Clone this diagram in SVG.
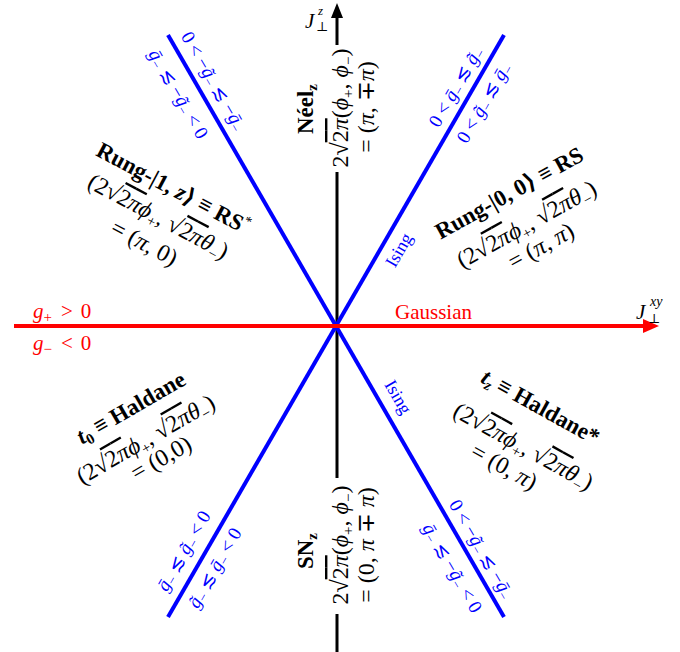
<svg xmlns="http://www.w3.org/2000/svg" width="680" height="652" viewBox="0 0 680 652">
<style>
text { font-family: "Liberation Serif", "DejaVu Serif", serif; }
.lbl { font-size: 24px; fill: #000; }
.ttl { font-size: 23px; font-weight: bold; fill: #000; }
.it { font-style: italic; }
.ov { text-decoration: overline; }
.bl { fill: #0000ff; font-size: 19px; }
.is { fill: #0000ff; font-size: 18px; }
.rd { fill: #ff0000; font-size: 21px; }
.ax { stroke: #000; stroke-width: 3; }
.ising { stroke: #0000ff; stroke-width: 4; }
.gauss { stroke: #ff0000; stroke-width: 4; }
.sub { font-size: 15px; }
.bsub { font-size: 13px; }
</style>
<rect width="680" height="652" fill="#fff"/>
<g id="connectors">
<line class="ax" x1="337" y1="16" x2="337" y2="652"/>
<polygon points="337,3 331,18 343,18" fill="#000"/>
<line class="ising" x1="168" y1="35" x2="504" y2="617"/>
<line class="ising" x1="168" y1="617" x2="504" y2="35"/>
<line class="gauss" x1="14" y1="326" x2="647" y2="326"/>
<polygon points="659,326 643,319 643,333" fill="#ff0000"/>
</g>
<g id="axis-labels">
<text x="305" y="28" class="it" font-size="21">J</text>
<text x="318" y="15" class="it" font-size="13">z</text>
<text x="316" y="31" font-size="13">⊥</text>
<text x="636" y="319" class="it" font-size="21">J</text>
<text x="650" y="306" class="it" font-size="14">xy</text>
<text x="648" y="323" font-size="13">⊥</text>
</g>
<g id="gaussian">
<text class="rd" x="33" y="318"><tspan class="it">g</tspan><tspan class="sub" dy="4">+</tspan><tspan dy="-4" dx="9">&gt;</tspan><tspan dx="8">0</tspan></text>
<text class="rd" x="33" y="350"><tspan class="it">g</tspan><tspan class="sub" dy="4">−</tspan><tspan dy="-4" dx="9">&lt;</tspan><tspan dx="8">0</tspan></text>
<text class="rd" x="395" y="319" font-size="20">Gaussian</text>
</g>
<g id="ising-labels">
<text class="is" transform="translate(404,253) rotate(-60)" text-anchor="middle">Ising</text>
<text class="is" transform="translate(393,400) rotate(60)" text-anchor="middle">Ising</text>
</g>
<g id="bound-tr">
<text class="bl" transform="translate(461,90) rotate(-60)" text-anchor="middle">0 &lt; <tspan class="it">ḡ</tspan><tspan class="bsub" dy="3">−</tspan><tspan dy="-3"> ≲ </tspan><tspan class="it">g̃</tspan><tspan class="bsub" dy="3">−</tspan></text>
<text class="bl" transform="translate(489,106) rotate(-60)" text-anchor="middle">0 &lt; <tspan class="it">g̃</tspan><tspan class="bsub" dy="3">−</tspan><tspan dy="-3"> ≲ </tspan><tspan class="it">ḡ</tspan><tspan class="bsub" dy="3">−</tspan></text>
</g>
<g id="bound-bl">
<text class="bl" transform="translate(189,554) rotate(-60)" text-anchor="middle"><tspan class="it">ḡ</tspan><tspan class="bsub" dy="3">−</tspan><tspan dy="-3"> ≲ </tspan><tspan class="it">g̃</tspan><tspan class="bsub" dy="3">−</tspan><tspan dy="-3"> &lt; 0</tspan></text>
<text class="bl" transform="translate(220,571) rotate(-60)" text-anchor="middle"><tspan class="it">g̃</tspan><tspan class="bsub" dy="3">−</tspan><tspan dy="-3"> ≲ </tspan><tspan class="it">ḡ</tspan><tspan class="bsub" dy="3">−</tspan><tspan dy="-3"> &lt; 0</tspan></text>
</g>
<g id="bound-tl">
<text class="bl" transform="translate(208,84) rotate(60)" text-anchor="middle">0 &lt; −<tspan class="it">g̃</tspan><tspan class="bsub" dy="3">−</tspan><tspan dy="-3"> ≲ −</tspan><tspan class="it">ḡ</tspan><tspan class="bsub" dy="3">−</tspan></text>
<text class="bl" transform="translate(173,97) rotate(60)" text-anchor="middle"><tspan class="it">ḡ</tspan><tspan class="bsub" dy="3">−</tspan><tspan dy="-3"> ≲ −</tspan><tspan class="it">g̃</tspan><tspan class="bsub" dy="3">−</tspan><tspan dy="-3"> &lt; 0</tspan></text>
</g>
<g id="bound-br">
<text class="bl" transform="translate(476,552) rotate(60)" text-anchor="middle">0 &lt; −<tspan class="it">g̃</tspan><tspan class="bsub" dy="3">−</tspan><tspan dy="-3"> ≲ −</tspan><tspan class="it">ḡ</tspan><tspan class="bsub" dy="3">−</tspan></text>
<text class="bl" transform="translate(447,571) rotate(60)" text-anchor="middle"><tspan class="it">ḡ</tspan><tspan class="bsub" dy="3">−</tspan><tspan dy="-3"> ≲ −</tspan><tspan class="it">g̃</tspan><tspan class="bsub" dy="3">−</tspan><tspan dy="-3"> &lt; 0</tspan></text>
</g>
<g id="rs" transform="translate(527,225) rotate(-29)">
<text class="ttl" x="0" y="-29" text-anchor="middle">Rung-|0, 0⟩ ≡ RS</text>
<text class="lbl" x="0" y="7" text-anchor="middle">(2√<tspan class="ov">2<tspan class="it">π</tspan></tspan><tspan class="it">ϕ</tspan><tspan class="sub" dy="5">+</tspan><tspan dy="-5">, √</tspan><tspan class="ov">2<tspan class="it">π</tspan></tspan><tspan class="it">θ</tspan><tspan class="sub" dy="5">−</tspan><tspan dy="-5">)</tspan></text>
<text class="lbl" x="2" y="33" text-anchor="middle">= (<tspan class="it">π</tspan>, <tspan class="it">π</tspan>)</text>
</g>
<g id="rs-star" transform="translate(158,217) rotate(28)">
<text class="ttl" x="0" y="-25" text-anchor="middle">Rung-|1, <tspan class="it">z</tspan>⟩ ≡ RS<tspan font-size="14" font-weight="normal" dy="-9">*</tspan></text>
<text class="lbl" x="0" y="7" text-anchor="middle">(2√<tspan class="ov">2<tspan class="it">π</tspan></tspan><tspan class="it">ϕ</tspan><tspan class="sub" dy="5">+</tspan><tspan dy="-5">, √</tspan><tspan class="ov">2<tspan class="it">π</tspan></tspan><tspan class="it">θ</tspan><tspan class="sub" dy="5">−</tspan><tspan dy="-5">)</tspan></text>
<text class="lbl" x="0" y="37" text-anchor="middle">= (<tspan class="it">π</tspan>, 0)</text>
</g>
<g id="haldane" transform="translate(146,440) rotate(-30)">
<text class="ttl" x="3" y="-28" text-anchor="middle"><tspan class="it">t</tspan><tspan class="sub" dy="4">0</tspan><tspan dy="-4"> ≡ Haldane</tspan></text>
<text class="lbl" x="0" y="7" text-anchor="middle">(2√<tspan class="ov">2<tspan class="it">π</tspan></tspan><tspan class="it">ϕ</tspan><tspan class="sub" dy="5">+</tspan><tspan dy="-5">, √</tspan><tspan class="ov">2<tspan class="it">π</tspan></tspan><tspan class="it">θ</tspan><tspan class="sub" dy="5">−</tspan><tspan dy="-5">)</tspan></text>
<text class="lbl" x="4" y="31" text-anchor="middle">= (0,0)</text>
</g>
<g id="haldane-star" transform="translate(523,447) rotate(29)">
<text class="ttl" x="-4" y="-36" text-anchor="middle"><tspan class="it">t</tspan><tspan class="sub it" dy="4">z</tspan><tspan dy="-4"> ≡ Haldane*</tspan></text>
<text class="lbl" x="0" y="7" text-anchor="middle">(2√<tspan class="ov">2<tspan class="it">π</tspan></tspan><tspan class="it">ϕ</tspan><tspan class="sub" dy="5">+</tspan><tspan dy="-5">, √</tspan><tspan class="ov">2<tspan class="it">π</tspan></tspan><tspan class="it">θ</tspan><tspan class="sub" dy="5">−</tspan><tspan dy="-5">)</tspan></text>
<text class="lbl" x="-7" y="34" text-anchor="middle">= (0, <tspan class="it">π</tspan>)</text>
</g>
<g id="neel">
<rect x="329" y="45" width="15" height="127" fill="#fff"/>
<text class="ttl" transform="translate(313,109) rotate(-90)" text-anchor="middle">Néel<tspan class="sub" dy="4">z</tspan></text>
<text class="lbl" transform="translate(348,108) rotate(-90)" text-anchor="middle">2√<tspan class="ov">2<tspan class="it">π</tspan></tspan>(<tspan class="it">ϕ</tspan><tspan class="sub" dy="5">+</tspan><tspan dy="-5">, </tspan><tspan class="it">ϕ</tspan><tspan class="sub" dy="5">−</tspan><tspan dy="-5">)</tspan></text>
<text class="lbl" transform="translate(374,107) rotate(-90)" text-anchor="middle">= (<tspan class="it">π</tspan>, ∓<tspan class="it">π</tspan>)</text>
</g>
<g id="sn">
<rect x="329" y="478" width="15" height="136" fill="#fff"/>
<text class="ttl" transform="translate(313,551) rotate(-90)" text-anchor="middle">SN<tspan class="sub" dy="4">z</tspan></text>
<text class="lbl" transform="translate(348,545) rotate(-90)" text-anchor="middle">2√<tspan class="ov">2<tspan class="it">π</tspan></tspan>(<tspan class="it">ϕ</tspan><tspan class="sub" dy="5">+</tspan><tspan dy="-5">, </tspan><tspan class="it">ϕ</tspan><tspan class="sub" dy="5">−</tspan><tspan dy="-5">)</tspan></text>
<text class="lbl" transform="translate(374,545) rotate(-90)" text-anchor="middle">= (0, <tspan class="it">π</tspan> ∓ <tspan class="it">π</tspan>)</text>
</g>
</svg>
